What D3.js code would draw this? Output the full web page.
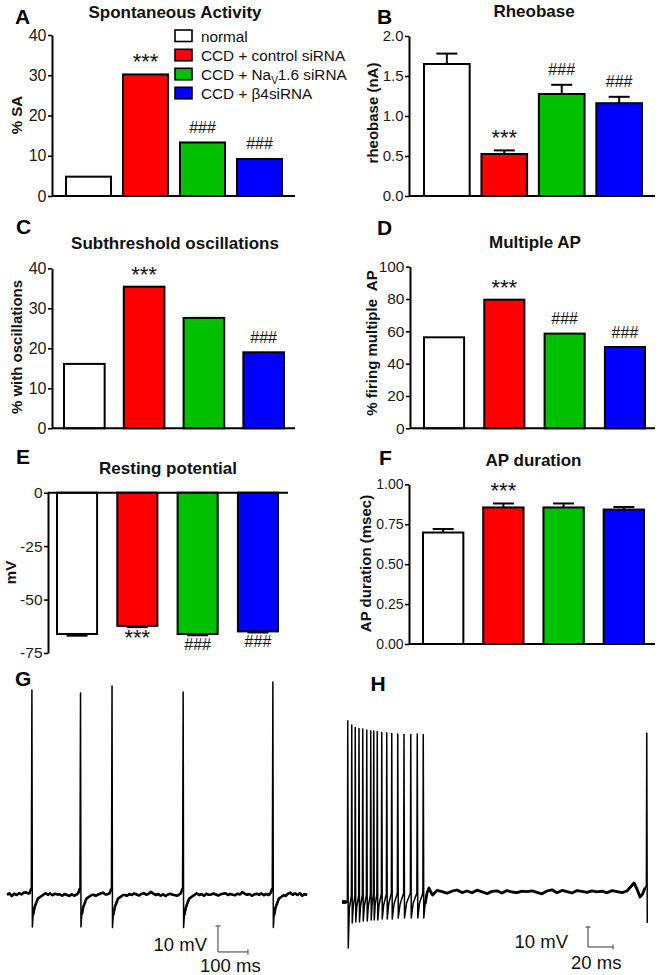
<!DOCTYPE html>
<html><head><meta charset="utf-8">
<script src="https://cdn.jsdelivr.net/npm/d3@7"></script>
<style>
body{margin:0;background:#fff}
svg{display:block;font-family:"Liberation Sans",Arial,Helvetica,sans-serif}
</style></head><body>
<svg id="c" width="659" height="975"></svg>
<script>
// ---------- data ----------
const groups = ["normal", "CCD + control siRNA", "CCD + NaV1.6 siRNA", "CCD + β4siRNA"];
const groupColors = ["#ffffff", "#ff0000", "#00c000", "#0000ff"];

const saValues = [4.8, 30.2, 13.3, 9.2];
const saMarks = ["", "***", "###", "###"];
const saTicks = [0, 10, 20, 30, 40];

const rheobaseValues = [1.65, 0.525, 1.275, 1.16];
const rheobaseSem = [0.13, 0.045, 0.115, 0.08];
const rheobaseMarks = ["", "***", "###", "###"];
const rheobaseTicks = [0, 0.5, 1.0, 1.5, 2.0];

const oscValues = [16.1, 35.4, 27.6, 19.0];
const oscMarks = ["", "***", "", "###"];
const oscTicks = [0, 10, 20, 30, 40];

const multiApValues = [56.3, 79.6, 58.6, 50.3];
const multiApMarks = ["", "***", "###", "###"];
const multiApTicks = [0, 20, 40, 60, 80, 100];

const restValues = [-66.1, -62.3, -66.1, -64.9];
const restSem = [0.8, 0.6, 0.6, 0.5];
const restMarks = ["", "***", "###", "###"];
const restTicks = [0, -25, -50, -75];

const durValues = [0.698, 0.855, 0.855, 0.842];
const durSem = [0.022, 0.025, 0.025, 0.016];
const durMarks = ["", "***", "", ""];
const durTicks = [0, 0.25, 0.5, 0.75, 1.0];

// trace G (spontaneous firing), time in ms, voltage in mV
const gBaseline = -60;
const gNoiseStep = 8;
const gNoise = [0.2,0.6,-0.4,0.5,0.0,0.7,0.2,0.9,1.0,0.5,0.2,0.4,-0.5,-0.2,-0.4,0.3,0.7,0.1,0.6,-0.1,0.5,0.2,0.3,-0.3,0.4,0.0,-0.4,0.3,-0.3,0.2,0.7,1.0,0.3,0.4,0.5,0.8,0.1,-0.3,0.2,0.6,0.9,0.2,0.3,0.5,-0.2,0.4,-0.1,0.3,0.5,0.0,-0.3,0.4,0.0,0.6,0.2,-0.2,0.4,0.7,0.1,0.5,1.2,0.5,0.0,0.4,-0.3,0.3,-0.4,0.2,0.5,0.1,-0.1,-0.3,0.4,0.0,0.6,0.1,0.5,-0.2,0.3,0.6,0.0,0.4,-0.3,0.5,0.1,0.2,0.6,0.2,-0.2,0.3,0.5,0.7,0.0,0.4,0.1,-0.1,0.5,0.2,1.1,0.5,0.1,0.4,-0.3,0.2,0.5,0.1,0.6,-0.1,0.4,0.0,-0.3,0.5,0.1,0.4,0.7,0.1,-0.4,0.5,0.9,0.1,0.6,0.0,0.7,-0.3,0.4,0.0];
const gSpikeTimes = [83, 245, 350, 587, 886];
const gSpikePeaks = [18.8, 17.7, 20.4, 18.1, 21.9];
const gSpikeTroughs = [-72.3, -72.3, -72.5, -72.5, -72.5];
const gPreOffsets = [-8, -2];
const gPreValues = [-59.3, -57.5];
const gAhpOffsets = [1.5, 4, 9, 20, 37];
const gAhpFrac = [1, 0.62, 0.38, 0.11, 0];

// trace H (evoked burst), time in ms, voltage in mV
const hPreBurst = [[0, -65], [3.6, -65]];
const hSpikeTimes = [4.6, 7.8, 10.6, 13.6, 16.6, 19.8, 23.0, 25.4, 28.2, 31.8, 35.8, 39.8, 44.6, 49.6, 55.0, 60.2, 65.0, 243.8];
const hSpikePeaks = [25.6, 23.5, 22.3, 21.8, 21.5, 21.0, 20.6, 20.5, 20.2, 19.8, 19.6, 19.3, 19.0, 18.8, 18.8, 19.0, 18.8, 19.5];
const hSpikeTroughs = [-88, -75.5, -75, -75, -74.5, -74.5, -74, -74, -74, -73.5, -73.5, -73.5, -73, -73, -73, -73, -73, -75.5];
const hSpikePre = [-65, -62, -62, -62, -61.5, -61.5, -61.5, -61, -61, -61, -61, -60.5, -60.5, -60.5, -60.5, -60.5, -60.5, -57];
const hRecoveryMid = [-68, -67.5, -67.5, -67, -67, -67, -67, -66.5, -66.5, -66.5, -66, -66, -66, -65.5, -65.5, -65.5];
const hTail = [[66.5, -66], [68, -60.5], [69.6, -58], [71, -60], [72.5, -61.5], [74, -60.5]];
const hNoiseStart = 76, hNoiseStep = 4, hBaseline = -60;
const hNoise = [0.8,0.2,-0.6,0.4,1.0,-0.3,0.5,-0.4,0.9,0.1,-0.8,0.3,0.6,-0.5,0.7,0.0,-0.3,0.4,0.2,0.6,-0.2,-0.9,0.5,1.1,-0.4,0.8,0.2,-0.5,0.7,0.3,-0.2,0.6,0.1,0.4,-0.4,0.7,0.2,-0.3,0.5];
const hEnd = [[233.6, -55.5], [236, -58.5], [238.4, -62.5], [240.5, -61], [242.4, -58]];

// scale bars
const gScaleBar = {t: 703, v: -81.9, dt: 100, dv: 10, tLabel: "100 ms", vLabel: "10 mV"};
const hScaleBar = {t: 196.8, v: -87.5, dt: 20, dv: 10, tLabel: "20 ms", vLabel: "10 mV"};

// ---------- drawing ----------
const svg = d3.select("#c");
const fmtPlain = d => String(d);

const panels = [
  {letter: "A", lx: 15, ly: 23.5, title: "Spontaneous Activity", tx: 175, ty: 17.5,
   ylabel: "% SA", ylx: 21.5, yly: 115,
   axisX: 52, axisEnd: 295, band: [66, 282], pad: 0.21,
   ydom: [0, 40], yr: [196, 35], ticks: saTicks, fmt: fmtPlain, tickFont: 16,
   values: saValues, sem: null, marks: saMarks},
  {letter: "B", lx: 377, ly: 23.5, title: "Rheobase", tx: 534, ty: 17,
   ylabel: "rheobase (nA)", ylx: 378, yly: 113,
   axisX: 409, axisEnd: 655, band: [424, 642], pad: 0.205,
   ydom: [0, 2], yr: [196, 36], ticks: rheobaseTicks, fmt: d3.format(".1f"), tickFont: 15,
   values: rheobaseValues, sem: rheobaseSem, marks: rheobaseMarks},
  {letter: "C", lx: 16, ly: 234, title: "Subthreshold oscillations", tx: 175, ty: 248.5,
   ylabel: "% with oscillations", ylx: 21.5, yly: 347,
   axisX: 52, axisEnd: 295, band: [64, 284], pad: 0.32,
   ydom: [0, 40], yr: [428.3, 268.3], ticks: oscTicks, fmt: fmtPlain, tickFont: 16,
   values: oscValues, sem: null, marks: oscMarks},
  {letter: "D", lx: 377, ly: 235, title: "Multiple AP", tx: 535, ty: 247.5,
   ylabel: "% firing multiple  AP", ylx: 377, yly: 343,
   axisX: 410, axisEnd: 655, band: [424, 645], pad: 0.335,
   ydom: [0, 100], yr: [428.3, 266.7], ticks: multiApTicks, fmt: fmtPlain, tickFont: 15.5,
   values: multiApValues, sem: null, marks: multiApMarks},
  {letter: "E", lx: 16, ly: 464, title: "Resting potential", tx: 168, ty: 473.5,
   ylabel: "mV", ylx: 15.5, yly: 572.5,
   axisX: 48, axisEnd: 288, band: [57, 278], pad: 0.335,
   ydom: [-75, 0], yr: [653, 492.7], ticks: restTicks, fmt: fmtPlain, tickFont: 15.5,
   values: restValues, sem: restSem, marks: restMarks},
  {letter: "F", lx: 379, ly: 465, title: "AP duration", tx: 533.5, ty: 465.5,
   ylabel: "AP duration (msec)", ylx: 371, yly: 563.5,
   axisX: 409, axisEnd: 655, band: [423, 644], pad: 0.33,
   ydom: [0, 1], yr: [644, 484.3], ticks: durTicks, fmt: d3.format(".2f"), tickFont: 14,
   values: durValues, sem: durSem, marks: durMarks}
];

panels.forEach(p => {
  const g = svg.append("g");
  const x = d3.scaleBand().domain(d3.range(groups.length)).range(p.band).paddingInner(p.pad).paddingOuter(0);
  const y = d3.scaleLinear().domain(p.ydom).range(p.yr);

  g.append("text").attr("x", p.lx).attr("y", p.ly).attr("font-size", 21).attr("font-weight", "bold").text(p.letter);
  g.append("text").attr("x", p.tx).attr("y", p.ty).attr("text-anchor", "middle")
    .attr("font-size", 17).attr("font-weight", "bold").attr("fill", "#111").text(p.title);
  g.append("text").attr("transform", `translate(${p.ylx},${p.yly}) rotate(-90)`)
    .attr("text-anchor", "middle").attr("font-size", 15).attr("font-weight", "bold").attr("fill", "#111")
    .style("white-space", "pre").text(p.ylabel);

  // bars
  g.selectAll("rect.bar").data(p.values).join("rect")
    .attr("x", (d, i) => x(i)).attr("width", x.bandwidth())
    .attr("y", d => Math.min(y(0), y(d))).attr("height", d => Math.abs(y(d) - y(0)))
    .attr("fill", (d, i) => groupColors[i]).attr("stroke", "#000").attr("stroke-width", 2);

  // error bars
  if (p.sem) {
    p.values.forEach((v, i) => {
      const cx = x(i) + x.bandwidth() / 2;
      const ve = v >= 0 ? v + p.sem[i] : v - p.sem[i];
      g.append("line").attr("x1", cx).attr("x2", cx).attr("y1", y(v)).attr("y2", y(ve))
        .attr("stroke", "#000").attr("stroke-width", 2);
      g.append("line").attr("x1", cx - 10.5).attr("x2", cx + 10.5).attr("y1", y(ve)).attr("y2", y(ve))
        .attr("stroke", "#000").attr("stroke-width", 2);
    });
  }

  // x axis line at zero
  g.append("line").attr("x1", p.axisX).attr("x2", p.axisEnd).attr("y1", y(0)).attr("y2", y(0))
    .attr("stroke", "#000").attr("stroke-width", 2);

  // y axis
  const ax = g.append("g").attr("transform", `translate(${p.axisX},0)`)
    .call(d3.axisLeft(y).tickValues(p.ticks).tickFormat(p.fmt).tickSize(4).tickSizeOuter(0).tickPadding(1.5));
  ax.select(".domain").attr("stroke-width", 2);
  ax.selectAll(".tick line").attr("stroke-width", 1.6);
  ax.selectAll(".tick text").attr("font-size", p.tickFont).attr("font-family", null).attr("fill", "#1a1a1a");

  // significance marks
  p.values.forEach((v, i) => {
    const m = p.marks[i];
    if (!m) return;
    const cx = x(i) + x.bandwidth() / 2;
    const s = p.sem ? p.sem[i] : 0;
    let yy;
    if (v >= 0) {
      yy = y(v + s) - (m === "***" ? 5 : 9.5);
    } else {
      yy = y(v - s) + (m === "***" ? 18 : 14.5);
    }
    g.append("text").attr("x", cx).attr("y", yy).attr("text-anchor", "middle")
      .attr("font-size", m === "***" ? 22 : 16).attr("fill", "#111").text(m);
  });
});

// legend (panel A)
const legend = svg.append("g");
const legendTops = [30, 49.3, 68.3, 87.3];
groups.forEach((name, i) => {
  legend.append("rect").attr("x", 175).attr("y", legendTops[i]).attr("width", 17).attr("height", 11.5)
    .attr("fill", groupColors[i]).attr("stroke", "#000").attr("stroke-width", 1.6);
  const t = legend.append("text").attr("x", 201).attr("y", legendTops[i] + 11.5).attr("font-size", 15.3).attr("fill", "#111");
  if (name.includes("NaV")) {
    t.append("tspan").text("CCD + Na");
    t.append("tspan").attr("font-size", 10).attr("dy", 4).text("V");
    t.append("tspan").attr("dy", -4).text("1.6 siRNA");
  } else {
    t.text(name);
  }
});

// ---------- traces ----------
function drawScaleBar(g, xs, ys, sb, vLabelX, vLabelY, tLabelX, tLabelY) {
  const col = "#555";
  const x0 = xs(sb.t), x1 = xs(sb.t + sb.dt), y0 = ys(sb.v), y1 = ys(sb.v + sb.dv);
  g.append("line").attr("x1", x0).attr("x2", x0).attr("y1", y0).attr("y2", y1).attr("stroke", col).attr("stroke-width", 1.2);
  g.append("line").attr("x1", x0 - 2.5).attr("x2", x0 + 2.5).attr("y1", y1).attr("y2", y1).attr("stroke", col).attr("stroke-width", 1.2);
  g.append("line").attr("x1", x0).attr("x2", x1).attr("y1", y0).attr("y2", y0).attr("stroke", col).attr("stroke-width", 1.2);
  g.append("line").attr("x1", x1).attr("x2", x1).attr("y1", y0 - 2.5).attr("y2", y0 + 2.5).attr("stroke", col).attr("stroke-width", 1.2);
  g.append("text").attr("x", vLabelX).attr("y", vLabelY).attr("text-anchor", "end").attr("font-size", 18.5).attr("fill", "#111").text(sb.vLabel);
  g.append("text").attr("x", tLabelX).attr("y", tLabelY).attr("font-size", 18.5).attr("fill", "#111").text(sb.tLabel);
}

// draws the trace thin everywhere and thicker on the sub-threshold parts (peaks break the thick path)
function drawTrace(g, pts, xs, ys, thin, thick) {
  const line = d3.line().x(d => xs(d[0])).y(d => ys(d[1]));
  g.append("path").attr("d", line(pts)).attr("fill", "none").attr("stroke", "#000")
    .attr("stroke-width", thin).attr("stroke-linejoin", "round");
  const lineSub = d3.line().defined(d => !d[2]).x(d => xs(d[0])).y(d => ys(d[1]));
  g.append("path").attr("d", lineSub(pts)).attr("fill", "none").attr("stroke", "#000")
    .attr("stroke-width", thick).attr("stroke-linejoin", "round");
}

// G
{
  const g = svg.append("g");
  g.append("text").attr("x", 15).attr("y", 686).attr("font-size", 21).attr("font-weight", "bold").text("G");
  const gx = d3.scaleLinear().domain([0, 1003]).range([7, 308]);
  const gy = d3.scaleLinear().domain([-60, -50]).range([895, 869]);
  const lastAhp = gAhpOffsets[gAhpOffsets.length - 1];
  const pts = [];
  gNoise.forEach((n, i) => {
    const t = i * gNoiseStep;
    if (gSpikeTimes.some(s => t > s + gPreOffsets[0] - 1 && t < s + lastAhp + 1)) return;
    pts.push([t, gBaseline + n]);
  });
  gSpikeTimes.forEach((s, k) => {
    gPreOffsets.forEach((o, j) => pts.push([s + o, gPreValues[j]]));
    pts.push([s, gSpikePeaks[k], true]);
    gAhpOffsets.forEach((o, j) => pts.push([s + o, gBaseline + (gSpikeTroughs[k] - gBaseline) * gAhpFrac[j], j === 0]));
  });
  pts.sort((a, b) => a[0] - b[0]);
  drawTrace(g, pts, gx, gy, 1.5, 2.6);
  drawScaleBar(g, gx, gy, gScaleBar, 207, 951, 200, 971.5);
}

// H
{
  const g = svg.append("g");
  g.append("text").attr("x", 370.5).attr("y", 691).attr("font-size", 21).attr("font-weight", "bold").text("H");
  const hx = d3.scaleLinear().domain([0, 244]).range([342, 647]);
  const hy = d3.scaleLinear().domain([-60, -50]).range([892, 872]);
  const pts = [];
  hPreBurst.forEach(p => pts.push(p));
  const nBurst = hSpikeTimes.length - 1;
  hSpikeTimes.forEach((s, k) => {
    if (k === nBurst) {
      hNoise.forEach((n, i) => pts.push([hNoiseStart + i * hNoiseStep, hBaseline + n]));
      hEnd.forEach(p => pts.push(p));
    }
    pts.push([s - 0.3, hSpikePre[k], true]);
    pts.push([s, hSpikePeaks[k], true]);
    pts.push([s + 0.4, hSpikeTroughs[k], true]);
    if (k < nBurst - 1) {
      const nxt = hSpikeTimes[k + 1];
      pts.push([s + 0.4 + (nxt - s - 0.7) * 0.35, hRecoveryMid[k], true]);
    } else if (k === nBurst - 1) {
      hTail.forEach(p => pts.push(p));
    }
  });
  drawTrace(g, pts, hx, hy, 1.5, 2.8);
  // thicker baseline blob before burst
  g.append("line").attr("x1", hx(hPreBurst[0][0])).attr("x2", hx(hPreBurst[1][0]))
    .attr("y1", hy(hPreBurst[0][1])).attr("y2", hy(hPreBurst[1][1])).attr("stroke", "#000").attr("stroke-width", 3.5);
  drawScaleBar(g, hx, hy, hScaleBar, 568, 948, 571, 969);
}
</script>
</body></html>
